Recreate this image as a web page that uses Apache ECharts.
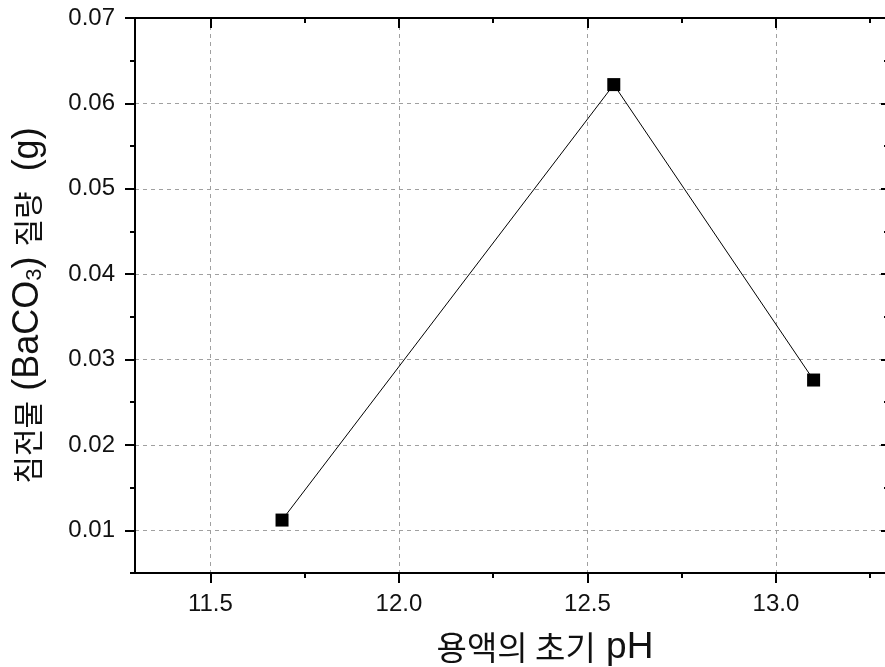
<!DOCTYPE html>
<html lang="ko">
<head>
  <meta charset="UTF-8">
  <script src="https://cdn.jsdelivr.net/npm/echarts@6/dist/echarts.min.js"></script>
  <style>
    html, body { margin: 0; padding: 0; background: #fff; }
  </style>
</head>
<body>
<div id="main" style="width:885px;height:667px;"></div>
<script>
  // data
  var phValues = [11.69, 12.57, 13.10];
  var massValues = [0.0112, 0.0622, 0.0276];

  // axis ticks
  var xMajorTicks = [11.5, 12.0, 12.5, 13.0];
  var xMinorTicks = [11.75, 12.25, 12.75, 13.25];
  var yMajorTicks = [0.01, 0.02, 0.03, 0.04, 0.05, 0.06, 0.07];
  var yMinorTicks = [0.005, 0.015, 0.025, 0.035, 0.045, 0.055, 0.065];

  var xMin = 11.3, xMax = 13.3;
  var yMin = 0.005, yMax = 0.07;

  var latin = 'Liberation Sans';
  var korean = 'Noto Sans CJK KR';

  var chart = echarts.init(document.getElementById('main'));

  var gridLine = {show: true, lineStyle: {color: '#a0a0a0', width: 1, type: [4, 4]}};
  var blackLine = {show: true, onZero: false, lineStyle: {color: '#000', width: 2}};

  function xAx(pos, ticks, len, inside, main) {
    return {
      type: 'value', position: pos, min: xMin, max: xMax, splitNumber: 4,
      axisLine: main ? blackLine : {show: false},
      axisTick: {show: true, inside: inside, length: len, customValues: ticks,
                 lineStyle: {color: '#000', width: 2}},
      axisLabel: {show: false},
      splitLine: {show: false}
    };
  }
  function yAx(pos, ticks, len, inside, main) {
    return {
      type: 'value', position: pos, min: yMin, max: yMax, splitNumber: 6,
      axisLine: main ? blackLine : {show: false},
      axisTick: {show: true, inside: inside, length: len, customValues: ticks,
                 lineStyle: {color: '#000', width: 2}},
      axisLabel: {show: false},
      splitLine: {show: false}
    };
  }

  var xBottom = xAx('bottom', xMajorTicks, 10, false, true);
  xBottom.axisLabel = {
    show: true, customValues: xMajorTicks, margin: 19,
    fontFamily: latin, fontSize: 24, color: '#111',
    formatter: function (v) { return v.toFixed(1); }
  };
  xBottom.splitLine = gridLine;
  xBottom.name = '{k|용액의 초기} pH';
  xBottom.nameLocation = 'middle';
  xBottom.nameGap = 56;
  xBottom.nameTextStyle = {
    fontFamily: latin, fontSize: 37, color: '#111', padding: [0, 0, 0, 66],
    rich: {k: {fontFamily: korean, fontSize: 33, color: '#111'}}
  };

  var yLeft = yAx('left', yMajorTicks, 10, false, true);
  yLeft.axisLabel = {
    show: true, customValues: yMajorTicks, margin: 20,
    fontFamily: latin, fontSize: 24, color: '#111',
    formatter: function (v) { return v.toFixed(2); }
  };
  yLeft.splitLine = gridLine;
  yLeft.name = '{k|침전물} (BaCO{sub|3}) {k|질량}  (g)';
  yLeft.nameLocation = 'middle';
  yLeft.nameGap = 89;
  yLeft.nameTextStyle = {
    fontFamily: latin, fontSize: 36, color: '#111', padding: [0, 20, 0, 0],
    rich: {
      k: {fontFamily: korean, fontSize: 30, color: '#111'},
      sub: {fontFamily: latin, fontSize: 22, color: '#111', verticalAlign: 'bottom'}
    }
  };

  chart.setOption({
    animation: false,
    backgroundColor: '#fff',
    grid: {left: 135, top: 18, width: 754, height: 555, containLabel: false, outerBoundsMode: 'none'},
    xAxis: [
      xBottom,
      xAx('bottom', xMinorTicks, 5, false, false),
      xAx('top', xMajorTicks, 10, true, true),
      xAx('top', xMinorTicks, 5, true, false)
    ],
    yAxis: [
      yLeft,
      yAx('left', yMinorTicks, 5, false, false),
      yAx('right', yMajorTicks, 8, true, true),
      yAx('right', yMinorTicks, 5, true, false)
    ],
    series: [{
      type: 'line',
      xAxisIndex: 0,
      yAxisIndex: 0,
      data: phValues.map(function (x, i) { return [x, massValues[i]]; }),
      symbol: 'rect',
      symbolSize: 13,
      itemStyle: {color: '#000'},
      lineStyle: {color: '#000', width: 1}
    }]
  });
</script>
</body>
</html>
